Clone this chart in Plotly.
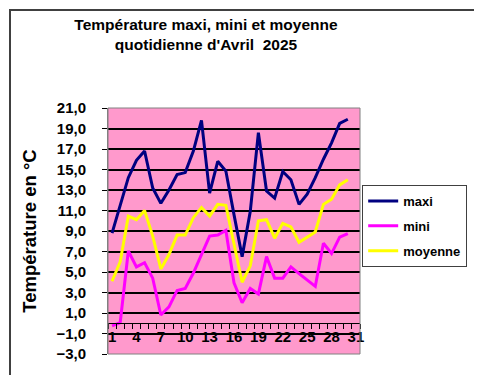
import plotly.graph_objects as go

days = list(range(1, 31))
maxi = [8.8, 11.5, 14.2, 15.9, 16.8, 13.2, 11.7, 13.0, 14.5, 14.7, 16.8, 19.8, 12.7, 15.8, 14.85,
        10.6, 6.5, 10.9, 18.6, 12.9, 12.2, 14.8, 14.0, 11.6, 12.6, 14.2, 16.0, 17.6, 19.5, 19.9]
mini = [-0.25, 0.05, 7.05, 5.5, 5.9, 4.4, 0.8, 1.6, 3.2, 3.4, 4.9, 6.7, 8.5, 8.6, 9.05,
        3.95, 2.0, 3.4, 2.85, 6.5, 4.4, 4.4, 5.5, 4.85, 4.2, 3.6, 7.8, 6.8, 8.4, 8.75]
moyenne = [4.1, 6.0, 10.45, 10.1, 11.0, 8.5, 5.3, 6.7, 8.6, 8.6, 10.3, 11.3, 10.45, 11.6, 11.5,
           7.6, 4.0, 5.6, 10.0, 10.1, 8.3, 9.75, 9.4, 7.9, 8.4, 8.9, 11.6, 12.1, 13.5, 14.0]
x_ticks = list(range(1, 32, 3))
y_ticks = list(range(-3, 22, 2))

FONT = "Liberation Sans, Arial, sans-serif"
W, H = 482, 375
ML, MR, MT, MB = 100, 130, 100, 29
PW, PH = W - ML - MR, H - MT - MB

fig = go.Figure()
for name, vals, col in [("maxi", maxi, "#000080"), ("mini", mini, "#FF00FF"), ("moyenne", moyenne, "#FFFF00")]:
    fig.add_trace(go.Scatter(x=days, y=vals, mode="lines", name=name, legendgroup=name,
                             line=dict(color=col, width=3)))

ymin, ymax = -3, 21
fig.update_layout(
    width=W, height=H,
    margin=dict(l=ML, r=MR, t=MT, b=MB, pad=0),
    paper_bgcolor="white", plot_bgcolor="#FF99CC",
    separators=", ",
    title=dict(text="Température maxi, mini et moyenne<br>quotidienne d'Avril  2025",
               x=198 / W, xanchor="center", y=1 - 22 / H, yanchor="top",
               font=dict(family=FONT, size=15.5, color="black", weight="bold")),
    showlegend=True,
    legend=dict(x=(363 - ML) / PW - 0.035, xanchor="left", y=(H - MB - 177) / PH, yanchor="top",
                bgcolor="white", bordercolor="#404040", borderwidth=1,
                font=dict(family=FONT, size=13, color="black", weight="bold"),
                tracegroupgap=5),
    xaxis=dict(range=[0.5, 31.5], anchor="free", position=(0 - ymin) / (ymax - ymin),
               tickvals=x_ticks, ticktext=[str(v) for v in x_ticks], ticks="",
               showgrid=False, zeroline=False, showline=True, linecolor="black", linewidth=1,
               tickfont=dict(family=FONT, size=15, color="black", weight="bold"),
               minor=dict(tick0=0.5, dtick=1, ticks="outside", ticklen=5, tickcolor="black", tickwidth=1, showgrid=False)),
    yaxis=dict(range=[ymin, ymax], tickvals=y_ticks, tickformat=".1f",
               ticks="outside", ticklen=5, tickcolor="black", ticklabelstandoff=13,
               showgrid=True, gridcolor="black", gridwidth=2, zeroline=False,
               showline=True, linecolor="#808080", linewidth=1,
               tickfont=dict(family=FONT, size=15, color="black", weight="bold"),
               title=dict(text="Température en °C", standoff=14,
                          font=dict(family=FONT, size=18.5, color="black", weight="bold"))),
)
# plot area border
fig.add_shape(type="rect", xref="paper", yref="paper", x0=0, x1=1, y0=0, y1=1,
              line=dict(color="#808080", width=1), layer="above")
# outer chart border
fig.add_shape(type="rect", xref="paper", yref="paper",
              x0=-(ML - 2) / PW, x1=1 + (MR - 2) / PW, y0=-(MB - 2) / PH, y1=1 + (MT - 2) / PH,
              line=dict(color="#404040", width=2))
fig.write_html("out.html")
